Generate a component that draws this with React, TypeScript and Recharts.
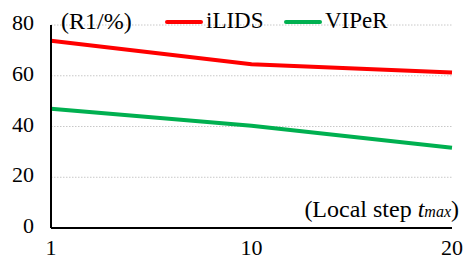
import React from 'react';
import { LineChart, Line, XAxis, YAxis, CartesianGrid, Legend } from 'recharts';

const steps = ['1', '10', '20'];
const ilids = [73.8, 64.5, 61.3];
const viper = [47.0, 40.3, 31.6];
const yTicks = [0, 20, 40, 60, 80];

const data = steps.map((s, i) => ({ step: s, iLIDS: ilids[i], VIPeR: viper[i] }));

const FONT = 'Liberation Serif';

const YTick = (props: any) => {
  const { y, payload } = props;
  return (
    <text x={34} y={y + 5} textAnchor="end" style={{ fontFamily: FONT, fontSize: 22 }} fill="#000">
      {payload.value}
    </text>
  );
};

const XTick = (props: any) => {
  const { x, y, payload } = props;
  return (
    <text x={x} y={y + 25} textAnchor="middle" style={{ fontFamily: FONT, fontSize: 22 }} fill="#000">
      {payload.value}
    </text>
  );
};

const LegendContent = (props: any) => {
  const { payload } = props;
  const pos: Record<string, number> = { iLIDS: 165, VIPeR: 284 };
  return (
    <div style={{ position: 'relative', width: 465, height: 0, fontFamily: FONT, fontSize: 23, color: '#000' }}>
      <span style={{ position: 'absolute', left: 61, top: 7, lineHeight: '28px', whiteSpace: 'nowrap', fontSize: 24 }}>(R1/%)</span>
      {(payload || []).map((p: any) => (
        <div key={p.value} style={{ position: 'absolute', left: pos[p.value], top: 7, height: 28, display: 'flex', alignItems: 'center', whiteSpace: 'nowrap' }}>
          <div style={{ width: 38, height: 4, background: p.color, borderRadius: 2, marginRight: 3, marginTop: 1 }} />
          <span style={{ lineHeight: '28px' }}>{p.value}</span>
        </div>
      ))}
    </div>
  );
};

export default function App() {
  return (
    <div style={{ position: 'absolute', left: 0, top: 0, width: 465, height: 259, background: '#fff', fontFamily: FONT }}>
      <LineChart width={465} height={259} data={data} margin={{ top: 25, right: 13, left: 0, bottom: 0 }}>
        <CartesianGrid horizontal vertical={false} stroke="#c8c8c8" strokeDasharray="1.5 1.5" />
        <XAxis
          dataKey="step"
          height={31}
          tickLine={false}
          tickSize={0}
          axisLine={{ stroke: '#000', strokeWidth: 2 }}
          tick={<XTick />}
          interval={0}
        />
        <YAxis
          width={51}
          domain={[0, 80]}
          ticks={yTicks}
          tickLine={false}
          tickSize={0}
          axisLine={{ stroke: '#000', strokeWidth: 2 }}
          tick={<YTick />}
          interval={0}
        />
        <Legend
          verticalAlign="top"
          height={0}
          wrapperStyle={{ position: 'absolute', left: 0, top: 0, width: 465, height: 0, overflow: 'visible' }}
          content={<LegendContent />}
        />
        <Line dataKey="iLIDS" stroke="#ff0000" strokeWidth={4} dot={false} isAnimationActive={false} />
        <Line dataKey="VIPeR" stroke="#00b050" strokeWidth={4} dot={false} isAnimationActive={false} />
      </LineChart>
      <div style={{ position: 'absolute', right: 6, top: 195, fontFamily: FONT, fontSize: 24, lineHeight: '28px', whiteSpace: 'nowrap', color: '#000' }}>
        (Local step <i>t</i><i style={{ fontSize: 16 }}>max</i>)
      </div>
    </div>
  );
}
